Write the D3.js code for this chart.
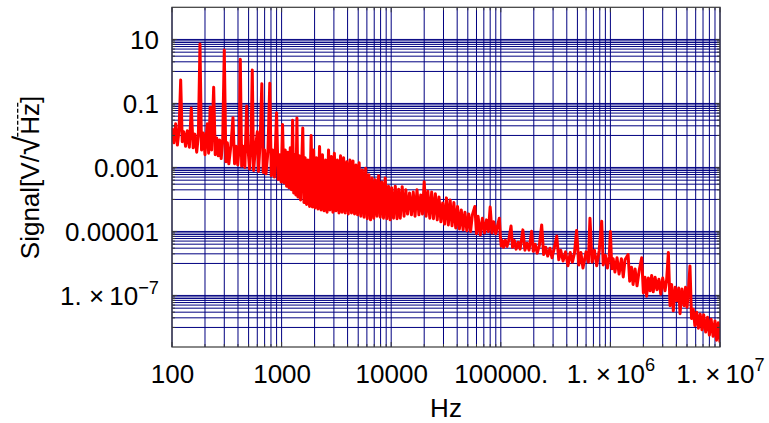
<!DOCTYPE html>
<html><head><meta charset="utf-8">
<script src="https://cdn.jsdelivr.net/npm/d3@7"></script>
<style>
body{margin:0;background:#fff}
svg{display:block}
text{font-family:"Liberation Sans",Arial,Helvetica,sans-serif;fill:#000}
</style>
</head><body>
<svg id="chart" width="769" height="423"></svg>
<script>
// ---- data ----
const freqHz = [
  100,104,108,112,116,120,124,128,133,138,
  144,150,156,162,168,174,180,186,193,200,
  205,210,216,223,230,240,248,256,264,272,
  281,290,300,310,320,330,345,360,372,385,
  398,410,420,432,446,462,480,495,510,525,
  540,555,575,600,615,635,660,680,700,720,
  750,780,805,830,860,900,930,960,990,
  1020,1050,1080,1110,1140,1170,1200,1230,1260,1290,
  1320,1350,1380,1410,1450,1490,1560,1600,1640,1690,
  1740,1800,1860,1910,1960,2020,2080,2150,2220,2290,
  2360,2440,2520,2600,2680,2760,2850,2940,3030,3130,
  3230,3340,3450,3560,3680,3800,3930,4060,4200,4340,
  4480,4630,4780,4940,5100,5280,5460,5650,5850,6050,
  6260,6480,6700,6930,7170,7420,7680,7950,8230,8520,
  8820,9130,9450,9780,
  10100,10500,10900,11300,11700,12100,12600,13100,13600,14100,
  14700,15300,15900,16500,17200,17900,18600,19300,20000,20800,
  21600,22500,23400,24300,25300,26300,27300,28400,29500,30700,
  31900,33200,34500,35900,37300,38800,40300,41900,43600,45300,
  47100,49000,51000,53000,55000,58000,60000,62000,65000,68000,
  71000,74000,77000,80000,83000,86000,90000,94000,97000,99000,
  101000,
  103000,106000,110000,114000,118000,124000,128000,133000,138000,144000,
  150000,159000,166000,173000,181000,191000,198000,206000,215000,225000,
  236000,246000,257000,268000,281000,293000,306000,324000,338000,352000,
  370000,390000,410000,430000,450000,470000,492000,515000,538000,562000,
  600000,630000,651000,680000,715000,750000,790000,833000,860000,900000,
  940000,975000,
  1000000,1030000,1060000,1100000,1150000,1200000,1260000,1310000,1360000,1450000,
  1500000,1560000,1610000,1680000,1750000,1830000,1930000,2000000,2070000,2140000,
  2220000,2300000,2380000,2460000,2560000,2660000,2770000,2880000,3000000,3150000,
  3260000,3380000,3500000,3620000,3750000,3900000,4050000,4200000,4320000,4500000,
  4700000,4850000,5000000,5150000,5320000,5500000,5700000,5900000,6130000,6350000,
  6600000,6850000,7100000,7400000,7700000,8000000,8300000,8650000,9000000,9300000,
  9650000,10000000
];
const signalV = [
  1.7e-2,5.9e-3,2.3e-2,5.0e-3,1.48e-2,0.54,6.4e-3,1.3e-2,4.6e-3,1.4e-2,
  4.3e-3,7.2e-2,4.1e-3,1.1e-2,3.0e-3,9.8e-3,7.2,3.5e-3,1.2e-2,2.5e-3,
  9.0e-3,2.3e-2,2.8e-3,7.8e-2,3.5e-3,0.32,2.5e-3,8.3e-3,2.3e-3,7.2e-3,
  1.9e-3,6.4e-3,4.7,1.5e-3,5.9e-3,1.3e-3,5.0e-3,3.6e-2,1.3e-3,4.6e-3,
  1.2e-3,4.3e-3,2.4,1.1e-3,4.6e-3,1.0e-3,8.3e-2,3.5e-3,9.0e-4,4.1e-3,
  1.1,8.0e-4,3.5e-3,1.3e-2,7.5e-4,5.0e-3,0.41,7.0e-4,3.5e-3,6.3e-4,
  3.0e-3,0.43,5.5e-4,3.5e-3,5.0e-4,5.1e-2,4.2e-4,2.5e-3,3.5e-4,
  2.2e-2,3.3e-4,3.5e-3,2.6e-4,3.0e-3,2.3e-4,4.1e-3,2.0e-4,3.0e-2,1.6e-4,
  2.5e-3,1.38e-4,3.5e-2,1.2e-4,2.3e-3,9.6e-5,1.7e-2,8.0e-5,2.0e-3,7.0e-5,
  1.7e-3,6.0e-5,1.0e-2,5.8e-5,3.5e-3,5.4e-5,2.0e-3,5.0e-5,4.5e-3,4.7e-5,
  2.5e-3,4.4e-5,1.7e-3,4.0e-5,3.5e-3,4.7e-5,2.2e-3,4.0e-5,2.8e-3,4.4e-5,
  1.7e-3,3.8e-5,2.3e-3,4.0e-5,2.0e-3,3.8e-5,1.5e-3,3.5e-5,1.7e-3,3.8e-5,
  1.6e-3,3.5e-5,1.2e-3,3.3e-5,1.4e-3,3.0e-5,8.3e-4,2.8e-5,9.5e-4,2.5e-5,
  5.9e-4,2.3e-5,4.7e-4,2.6e-5,4.1e-4,3.0e-5,5.5e-4,2.8e-5,3.5e-4,2.6e-5,
  4.7e-4,2.5e-5,2.6e-4,2.3e-5,
  2.3e-4,2.6e-5,2.6e-4,2.5e-5,2.1e-4,2.6e-5,2.5e-4,3.0e-5,2.0e-4,3.5e-5,
  1.6e-4,3.3e-5,1.7e-4,3.0e-5,2.0e-4,3.3e-5,1.38e-4,3.5e-5,3.6e-4,3.0e-5,
  1.8e-4,2.6e-5,1.7e-4,2.5e-5,1.5e-4,2.3e-5,1.2e-4,2.0e-5,7.8e-5,1.7e-5,
  1.12e-4,1.6e-5,9.6e-5,1.5e-5,8.0e-5,1.29e-5,6.0e-5,1.2e-5,4.7e-5,1.12e-5,
  4.0e-5,1.05e-5,3.5e-5,1.0e-5,3.3e-5,6.0e-5,8.5e-6,3.0e-5,7.8e-6,2.6e-5,
  9.0e-6,2.3e-5,1.0e-5,5.8e-5,9.0e-6,2.0e-5,8.5e-6,1.7e-5,2.6e-5,7.4e-6,
  3.5e-6,
  5.2e-6,3.2e-6,5.3e-6,3.4e-6,5.2e-6,1.48e-5,3.2e-6,5.2e-6,2.8e-6,4.6e-6,
  2.8e-6,1.12e-5,2.6e-6,4.3e-6,2.6e-6,1.02e-5,2.4e-6,4.0e-6,2.1e-6,3.7e-6,
  1.6e-5,1.9e-6,3.2e-6,1.7e-6,3.0e-6,1.5e-6,2.8e-6,7.2e-6,1.3e-6,2.6e-6,
  1.2e-6,2.3e-6,8.5e-7,2.2e-6,1.1e-6,2.1e-6,1.07e-5,9.0e-7,2.2e-6,7.2e-7,
  2.3e-6,1.1e-6,2.6e-5,1.1e-6,2.6e-6,8.5e-7,2.5e-6,2.1e-5,9.0e-7,1.8e-6,
  7.2e-7,1.6e-6,
  1.0e-5,6.8e-7,1.4e-6,5.4e-7,1.5e-6,4.7e-7,1.4e-6,3.8e-7,1.3e-6,1.9e-6,
  2.8e-7,7.6e-7,2.2e-7,6.7e-7,2.0e-7,6.0e-7,1.5e-6,1.2e-7,3.7e-7,9.5e-8,
  3.5e-7,1.4e-7,4.2e-7,1.3e-7,3.7e-7,1.5e-7,3.2e-7,1.1e-7,3.5e-7,1.4e-7,
  3.1e-7,2.2e-6,4.8e-8,2.2e-7,3.3e-8,1.8e-7,6.8e-8,1.7e-7,2.7e-8,1.6e-7,
  4.8e-8,1.8e-7,4.3e-8,1.4e-7,8.3e-7,1.9e-8,3.7e-8,1.15e-8,3.0e-8,9.5e-9,
  2.6e-8,8.5e-9,2.5e-8,7.2e-9,2.1e-8,5.8e-9,1.8e-8,5.3e-9,1.6e-8,4.0e-9,
  1.4e-8,3.4e-9
];
const xTickValues = [100, 1000, 10000, 100000, 1e6, 1e7];
const xTickLabels = ["100", "1000", "10000", "100000.", "1. \u00d7\u200910^6", "1. \u00d7\u200910^7"];
const yTickValues = [10, 0.1, 0.001, 0.00001, 1e-7];
const yTickLabels = ["10", "0.1", "0.001", "0.00001", "1. \u00d7\u200910^\u22127"];
const xTitle = "Hz";
const yTitleParts = ["Signal[V/", "\u221a", "Hz", "]"];

// ---- layout ----
const plot = {left: 172, right: 720, top: 7.3, bottom: 347};
const FS = 26;
const svg = d3.select("#chart");

const x = d3.scaleLog().domain([100, 1e7]).range([plot.left, plot.right]);
const y = d3.scaleLog().domain([2.45e-9, 101]).range([plot.bottom, plot.top]);

const xGrid = x.ticks();
const yGrid = yTickValues.flatMap(t => d3.range(1, 11).map(m => t * m / 10));

svg.append("defs").append("clipPath").attr("id", "clip")
  .append("rect").attr("x", plot.left).attr("y", plot.top)
  .attr("width", plot.right - plot.left).attr("height", plot.bottom - plot.top);

// grid
const grid = svg.append("g").attr("stroke", "#000080").attr("stroke-width", 1);
grid.selectAll("line.v").data(xGrid).join("line").attr("class", "v")
  .attr("x1", d => x(d)).attr("x2", d => x(d))
  .attr("y1", plot.top).attr("y2", plot.bottom);
grid.selectAll("line.h").data(yGrid).join("line").attr("class", "h")
  .attr("y1", d => y(d)).attr("y2", d => y(d))
  .attr("x1", plot.left).attr("x2", plot.right);

// signal line
const pts = freqHz.map((f, i) => ({f, v: signalV[i]}));
svg.append("path").datum(pts)
  .attr("clip-path", "url(#clip)")
  .attr("fill", "none").attr("stroke", "#ff0000").attr("stroke-width", 3)
  .attr("stroke-linejoin", "round")
  .attr("d", d3.line().x(d => x(d.f)).y(d => y(d.v)));

// frame + ticks
const frameColor = "#3a3a3a";
svg.append("rect").attr("x", plot.left).attr("y", plot.top)
  .attr("width", plot.right - plot.left).attr("height", plot.bottom - plot.top)
  .attr("fill", "none").attr("stroke", frameColor).attr("stroke-width", 1.2);
const isMajorX = d => xTickValues.some(t => Math.abs(t - d) / t < 1e-9);
const isMajorY = d => yTickValues.some(t => Math.abs(t - d) / t < 1e-9);
const ticks = svg.append("g").attr("stroke", frameColor).attr("stroke-width", 1);
[["b", plot.bottom, -1], ["t", plot.top, 1]].forEach(([k, yy, dir]) => {
  ticks.selectAll("line.x" + k).data(xGrid).join("line").attr("class", "x" + k)
    .attr("x1", d => x(d)).attr("x2", d => x(d))
    .attr("y1", yy).attr("y2", d => yy + dir * (isMajorX(d) ? 5 : 3));
});
[["l", plot.left, 1], ["r", plot.right, -1]].forEach(([k, xx, dir]) => {
  ticks.selectAll("line.y" + k).data(yGrid).join("line").attr("class", "y" + k)
    .attr("y1", d => y(d)).attr("y2", d => y(d))
    .attr("x1", xx).attr("x2", d => xx + dir * (isMajorY(d) ? 5 : 3));
});

function richLabel(sel, label) {
  sel.text(null);
  const parts = label.split("^");
  sel.append("tspan").text(parts[0]);
  if (parts[1]) {
    sel.append("tspan").attr("dy", -FS * 0.45).attr("font-size", FS * 0.7).text(parts[1]);
  }
}

// x axis labels
const xAxis = svg.append("g").attr("transform", `translate(0,${plot.bottom})`)
  .call(d3.axisBottom(x).tickValues(xTickValues).tickSize(0).tickFormat((d, i) => xTickLabels[i]));
xAxis.select(".domain").remove();
xAxis.attr("font-family", null).attr("font-size", null);
xAxis.selectAll("text").attr("y", 36).attr("dy", 0)
  .attr("font-size", FS)
  .each(function(d, i) { richLabel(d3.select(this), xTickLabels[i]); });

// y axis labels
const yAxis = svg.append("g").attr("transform", `translate(${plot.left},0)`)
  .call(d3.axisLeft(y).tickValues(yTickValues).tickSize(0).tickFormat((d, i) => yTickLabels[i]));
yAxis.select(".domain").remove();
yAxis.attr("font-family", null).attr("font-size", null);
yAxis.selectAll("text").attr("x", -13).attr("dy", FS * 0.36)
  .attr("font-size", FS)
  .each(function(d, i) { richLabel(d3.select(this), yTickLabels[i]); });

// titles
svg.append("text").attr("x", (plot.left + plot.right) / 2).attr("y", 417)
  .attr("text-anchor", "middle").attr("font-size", FS).text(xTitle);

const yt = svg.append("g").attr("transform", "translate(39,177.5) rotate(-90)");
const ytext = yt.append("text").attr("text-anchor", "middle").attr("font-size", FS);
yTitleParts.forEach((p, i) => {
  const ts = ytext.append("tspan").text(p);
  if (i === 1) ts.attr("font-size", FS * 1.35);
  if (i === 2) ts.attr("dx", 1);
});
// overline over the radicand
const node = ytext.node();
const i0 = yTitleParts[0].length + 1;
const i1 = i0 + yTitleParts[2].length - 1;
const sx = node.getEndPositionOfChar(i0 - 1).x - 1;
const ex = node.getEndPositionOfChar(i1).x + 1;
yt.append("line").attr("x1", sx).attr("x2", ex).attr("y1", -FS * 0.82).attr("y2", -FS * 0.82)
  .attr("stroke", "#000").attr("stroke-width", 1.3).attr("stroke-dasharray", "4 2");
</script>
</body></html>
